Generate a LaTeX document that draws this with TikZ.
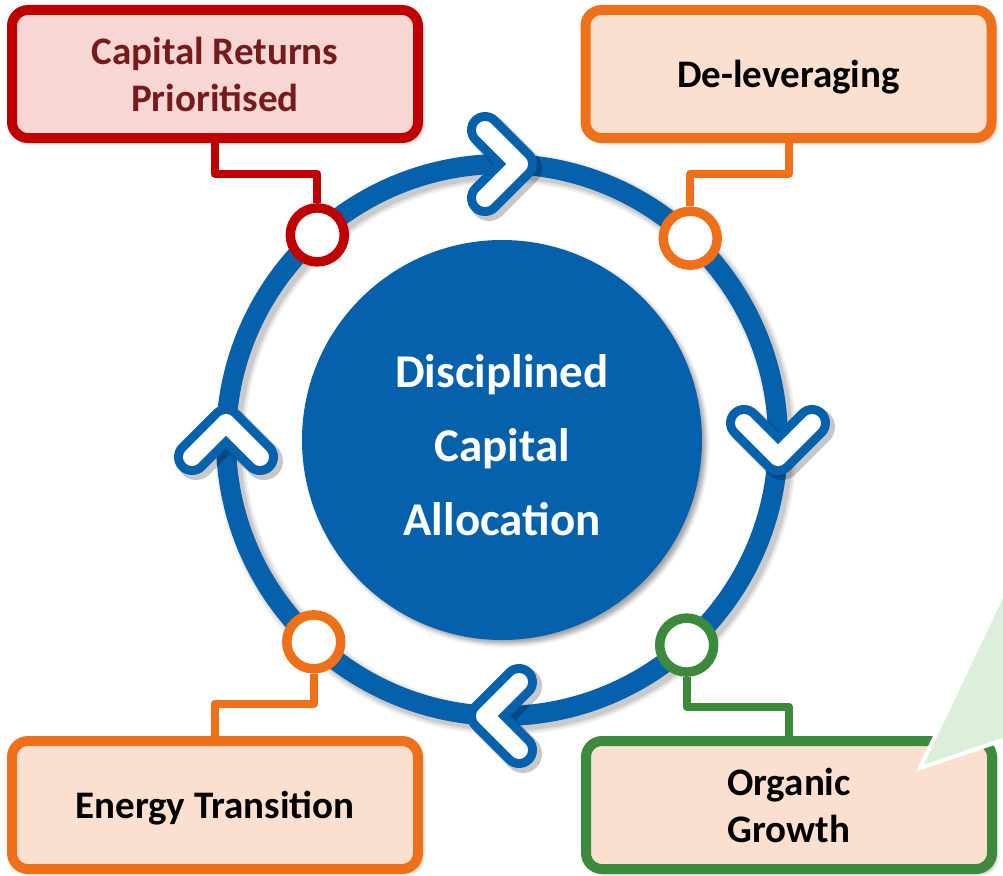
\documentclass[tikz,border=0pt]{standalone}
\usepackage{fontspec}
\setmainfont{Carlito}
\usetikzlibrary{shadows.blur}

\definecolor{cycleblue}{HTML}{0561AC}
\definecolor{capred}{HTML}{C00000}
\definecolor{captext}{HTML}{761A1A}
\definecolor{capfill}{HTML}{F8D6D4}
\definecolor{peach}{HTML}{FBE0CF}
\definecolor{flame}{HTML}{EF7018}
\definecolor{leaf}{HTML}{3C8A3C}
\definecolor{mint}{HTML}{DCEFDB}

\tikzset{
  softshadow/.style={blur shadow={shadow xshift=4pt, shadow yshift=-4pt,
      shadow blur radius=4pt, shadow opacity=35}},
  theme/.style={rectangle, rounded corners=16pt, line width=10pt,
      minimum width=406pt, minimum height=128pt, inner sep=0pt,
      align=center, font=\fontsize{39}{47}\selectfont\bfseries, softshadow},
  oneline/.style={text height=27pt, text depth=0pt},
  stop/.style={circle, fill=white, line width=9.5pt, minimum size=54pt, inner sep=0pt},
  link/.style={line width=8pt, line join=round},
  chevshade/.style={line width=38pt, black, opacity=0.22, line join=round, line cap=round},
  chevedge/.style={line width=36pt, cycleblue, line join=round, line cap=round},
  chevface/.style={line width=18pt, white, line join=round, line cap=round},
}

\begin{document}
\begin{tikzpicture}[x=1pt, y=-1pt]
\useasboundingbox (0,0) rectangle (1003,875);

% soft shadow under the cycle ring
\foreach \w/\o in {30/0.05, 26/0.07, 22/0.10}
  \draw[black, opacity=\o, line width=\w pt] (506,444) circle[radius=276pt];

% cycle ring and central disc
\node[circle, draw=cycleblue, line width=20pt, minimum size=552pt,
      inner sep=0pt, outer sep=0pt] (ring) at (502,440) {};
\node[circle, fill=cycleblue, minimum size=400pt, inner sep=0pt, softshadow,
      text=white, align=center, text height=190pt, text depth=0pt,
      font=\fontsize{47}{74}\selectfont\bfseries]
      (core) at (ring.center) {Disciplined\\Capital\\Allocation};

% direction chevrons on the ring
\foreach \a/\r in {90/0, 0/-90, 270/180, 180/90} {
  \begin{scope}[shift={(ring.\a)}]
    \begin{scope}[xshift=4pt, yshift=-4pt, rotate=\r]
      \draw[chevshade] (-17,-34) -- (17,0) -- (-17,34);
    \end{scope}
    \begin{scope}[rotate=\r]
      \draw[chevedge] (-17,-34) -- (17,0) -- (-17,34);
      \draw[chevface] (-17,-34) -- (17,0) -- (-17,34);
    \end{scope}
  \end{scope}
}

% stops on the ring
\node[stop, draw=capred] (p1) at (ring.132.5) {};
\node[stop, draw=flame]  (p2) at (ring.47.5)  {};
\node[stop, draw=flame]  (p3) at (ring.227.5) {};
\node[stop, draw=leaf]   (p4) at (ring.312.5) {};

% theme boxes
\node[theme, draw=capred, fill=capfill, text=captext] (cap) at (215,74)
  {Capital Returns\\Prioritised};
\node[theme, oneline, draw=flame, fill=peach] (del) at (788.5,74) {De-leveraging};
\node[theme, oneline, draw=flame, fill=peach] (ene) at (215,805) {Energy Transition};
\node[theme, draw=leaf, fill=peach] (org) at (789,805) {Organic\\Growth};

% connectors from boxes to stops
\draw[link, capred] (cap.south) -- ++(0,31) -| (p1.north);
\draw[link, flame]  (del.south) -- ++(0,31) -| (p2.north);
\draw[link, flame]  (p3.south) -- ++(0,30) -| (ene.north);
\draw[link, leaf]   (p4.south) -- ++(0,30) -| (org.north);

% pale green callout wedge
\fill[mint, draw=white, line width=4pt] (920,768) -- (1012,574) -- (1012,737) -- cycle;
\end{tikzpicture}
\end{document}
